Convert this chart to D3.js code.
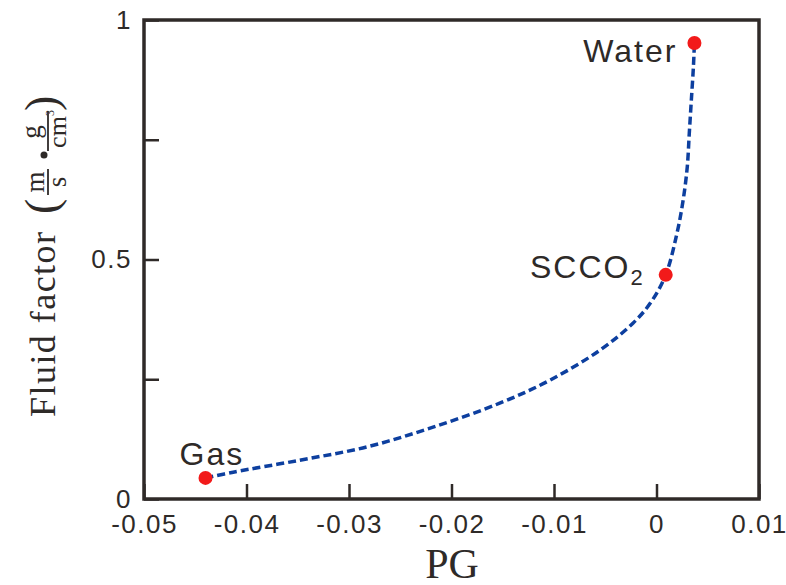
<!DOCTYPE html>
<html lang="en">
<head>
<meta charset="utf-8">
<script src="https://d3js.org/d3.v7.min.js"></script>
<style>
body { margin: 0; background: #fff; }
.tick text { font: 26px "Liberation Sans", Arial, sans-serif; fill: #2e2a28; letter-spacing: 1.5px; }
.tick line { stroke: #2f2a28; stroke-width: 2.5; }
.serif { font-family: "Liberation Serif", "Times New Roman", serif; fill: #2e2a28; }
.pt-label { font: 32px "Liberation Sans", Arial, sans-serif; fill: #2e2a28; letter-spacing: 2px; }
</style>
</head>
<body>
<svg width="786" height="585"></svg>
<script>
// curve (PG, fluid factor)
var curvePG    = [-0.0440, -0.0413, -0.0348, -0.0282, -0.0218, -0.0153, -0.0104, -0.0055, -0.0023, -0.0006, 0.0009, 0.0020, 0.0026, 0.0030, 0.0032, 0.0034, 0.0036, 0.0037];
var curveFluid = [ 0.044,   0.056,   0.081,   0.109,   0.150,   0.200,   0.248,   0.311,   0.367,   0.409,  0.468,  0.555,  0.624,  0.693,  0.764,  0.833,  0.902,  0.952];

// the three fluids
var fluidNames = ["Gas", "SCCO2", "Water"];
var fluidPG    = [-0.0440, 0.0009, 0.0037];
var fluidValue = [ 0.044,  0.468,  0.952];

var xTicks = [-0.05, -0.04, -0.03, -0.02, -0.01, 0, 0.01];
var yTicks = [0, 0.25, 0.5, 0.75, 1];
var yTickLabels = ["0", "", "0.5", "", "1"];

var svg = d3.select("svg");
// plot box (note: "top" is a reserved window property, so use prefixed names)
var boxL = 144, boxR = 759, boxT = 20, boxB = 499;

var x = d3.scaleLinear().domain([-0.05, 0.01]).range([boxL, boxR]);
var y = d3.scaleLinear().domain([0, 1]).range([boxB, boxT]);

// axes, ticks pointing inward
var xAxis = d3.axisBottom(x).tickValues(xTicks)
    .tickSizeInner(-15).tickSizeOuter(0).tickPadding(16)
    .tickFormat(function(d) { return d === 0 ? "0" : d.toFixed(2); });
var gx = svg.append("g").attr("transform", "translate(0," + boxB + ")").call(xAxis);
gx.select(".domain").remove();

var yAxis = d3.axisLeft(y).tickValues(yTicks)
    .tickSizeInner(-15).tickSizeOuter(0).tickPadding(12)
    .tickFormat(function(d, i) { return yTickLabels[i]; });
var gy = svg.append("g").attr("transform", "translate(" + boxL + ",0)").call(yAxis);
gy.select(".domain").remove();

// frame
svg.append("rect")
    .attr("x", boxL).attr("y", boxT)
    .attr("width", boxR - boxL).attr("height", boxB - boxT)
    .attr("fill", "none").attr("stroke", "#2f2a28").attr("stroke-width", 3.5);

// dashed curve
var line = d3.line()
    .x(function(d) { return x(d[0]); })
    .y(function(d) { return y(d[1]); })
    .curve(d3.curveCatmullRom.alpha(0.5));

svg.append("path")
    .datum(d3.zip(curvePG, curveFluid))
    .attr("d", line)
    .attr("fill", "none")
    .attr("stroke", "#0d3f9f")
    .attr("stroke-width", 3.5)
    .attr("stroke-dasharray", "8,4");

// points
var pts = fluidNames.map(function(n, i) { return { name: n, pg: fluidPG[i], v: fluidValue[i] }; });

svg.selectAll("circle.pt").data(pts).enter().append("circle")
    .attr("class", "pt")
    .attr("cx", function(d) { return x(d.pg); })
    .attr("cy", function(d) { return y(d.v); })
    .attr("r", 7)
    .attr("fill", "#f21a1a");

// point labels
var gas = pts[0], sc = pts[1], water = pts[2];
svg.append("text").attr("class", "pt-label")
    .attr("x", x(gas.pg) - 26).attr("y", y(gas.v) - 13)
    .text("Gas");

var scText = svg.append("text").attr("class", "pt-label")
    .attr("x", x(sc.pg) - 21).attr("y", y(sc.v) + 3)
    .attr("text-anchor", "end");
scText.append("tspan").text("SCCO");
scText.append("tspan").attr("dy", 7).style("font-size", "22px").text("2");

svg.append("text").attr("class", "pt-label")
    .attr("x", x(water.pg) - 17).attr("y", y(water.v) + 19)
    .attr("text-anchor", "end")
    .text("Water");

// x title
svg.append("text").attr("class", "serif")
    .attr("x", 452).attr("y", 578)
    .attr("text-anchor", "middle")
    .style("font-size", "42px")
    .text("PG");

// y title, built in a rotated frame
var yl = svg.append("g").attr("transform", "rotate(-90)");
yl.append("text").attr("class", "serif")
    .attr("x", -417).attr("y", 55)
    .attr("textLength", 185)
    .style("font-size", "36px")
    .text("Fluid factor");
yl.append("text").attr("class", "serif")
    .attr("x", -214).attr("y", 57)
    .style("font-size", "46px")
    .text("(");
// m / s
yl.append("text").attr("class", "serif")
    .attr("x", -182).attr("y", 44).attr("text-anchor", "middle")
    .style("font-size", "27px").text("m");
yl.append("line")
    .attr("x1", -195).attr("x2", -169).attr("y1", 48).attr("y2", 48)
    .attr("stroke", "#2e2a28").attr("stroke-width", 1.8);
yl.append("text").attr("class", "serif")
    .attr("x", -182).attr("y", 66).attr("text-anchor", "middle")
    .style("font-size", "27px").text("s");
yl.append("circle")
    .attr("cx", -155).attr("cy", 44).attr("r", 3.5)
    .attr("fill", "#2e2a28");
// g / cm3
yl.append("text").attr("class", "serif")
    .attr("x", -132).attr("y", 40).attr("text-anchor", "middle")
    .style("font-size", "27px").text("g");
yl.append("line")
    .attr("x1", -151).attr("x2", -112).attr("y1", 48).attr("y2", 48)
    .attr("stroke", "#2e2a28").attr("stroke-width", 1.8);
yl.append("text").attr("class", "serif")
    .attr("x", -132).attr("y", 66).attr("text-anchor", "middle")
    .style("font-size", "26px").text("cm");
yl.append("text").attr("class", "serif")
    .attr("x", -116).attr("y", 54)
    .style("font-size", "12px").text("3");
yl.append("text").attr("class", "serif")
    .attr("x", -111).attr("y", 57)
    .style("font-size", "46px")
    .text(")");
</script>
</body>
</html>
